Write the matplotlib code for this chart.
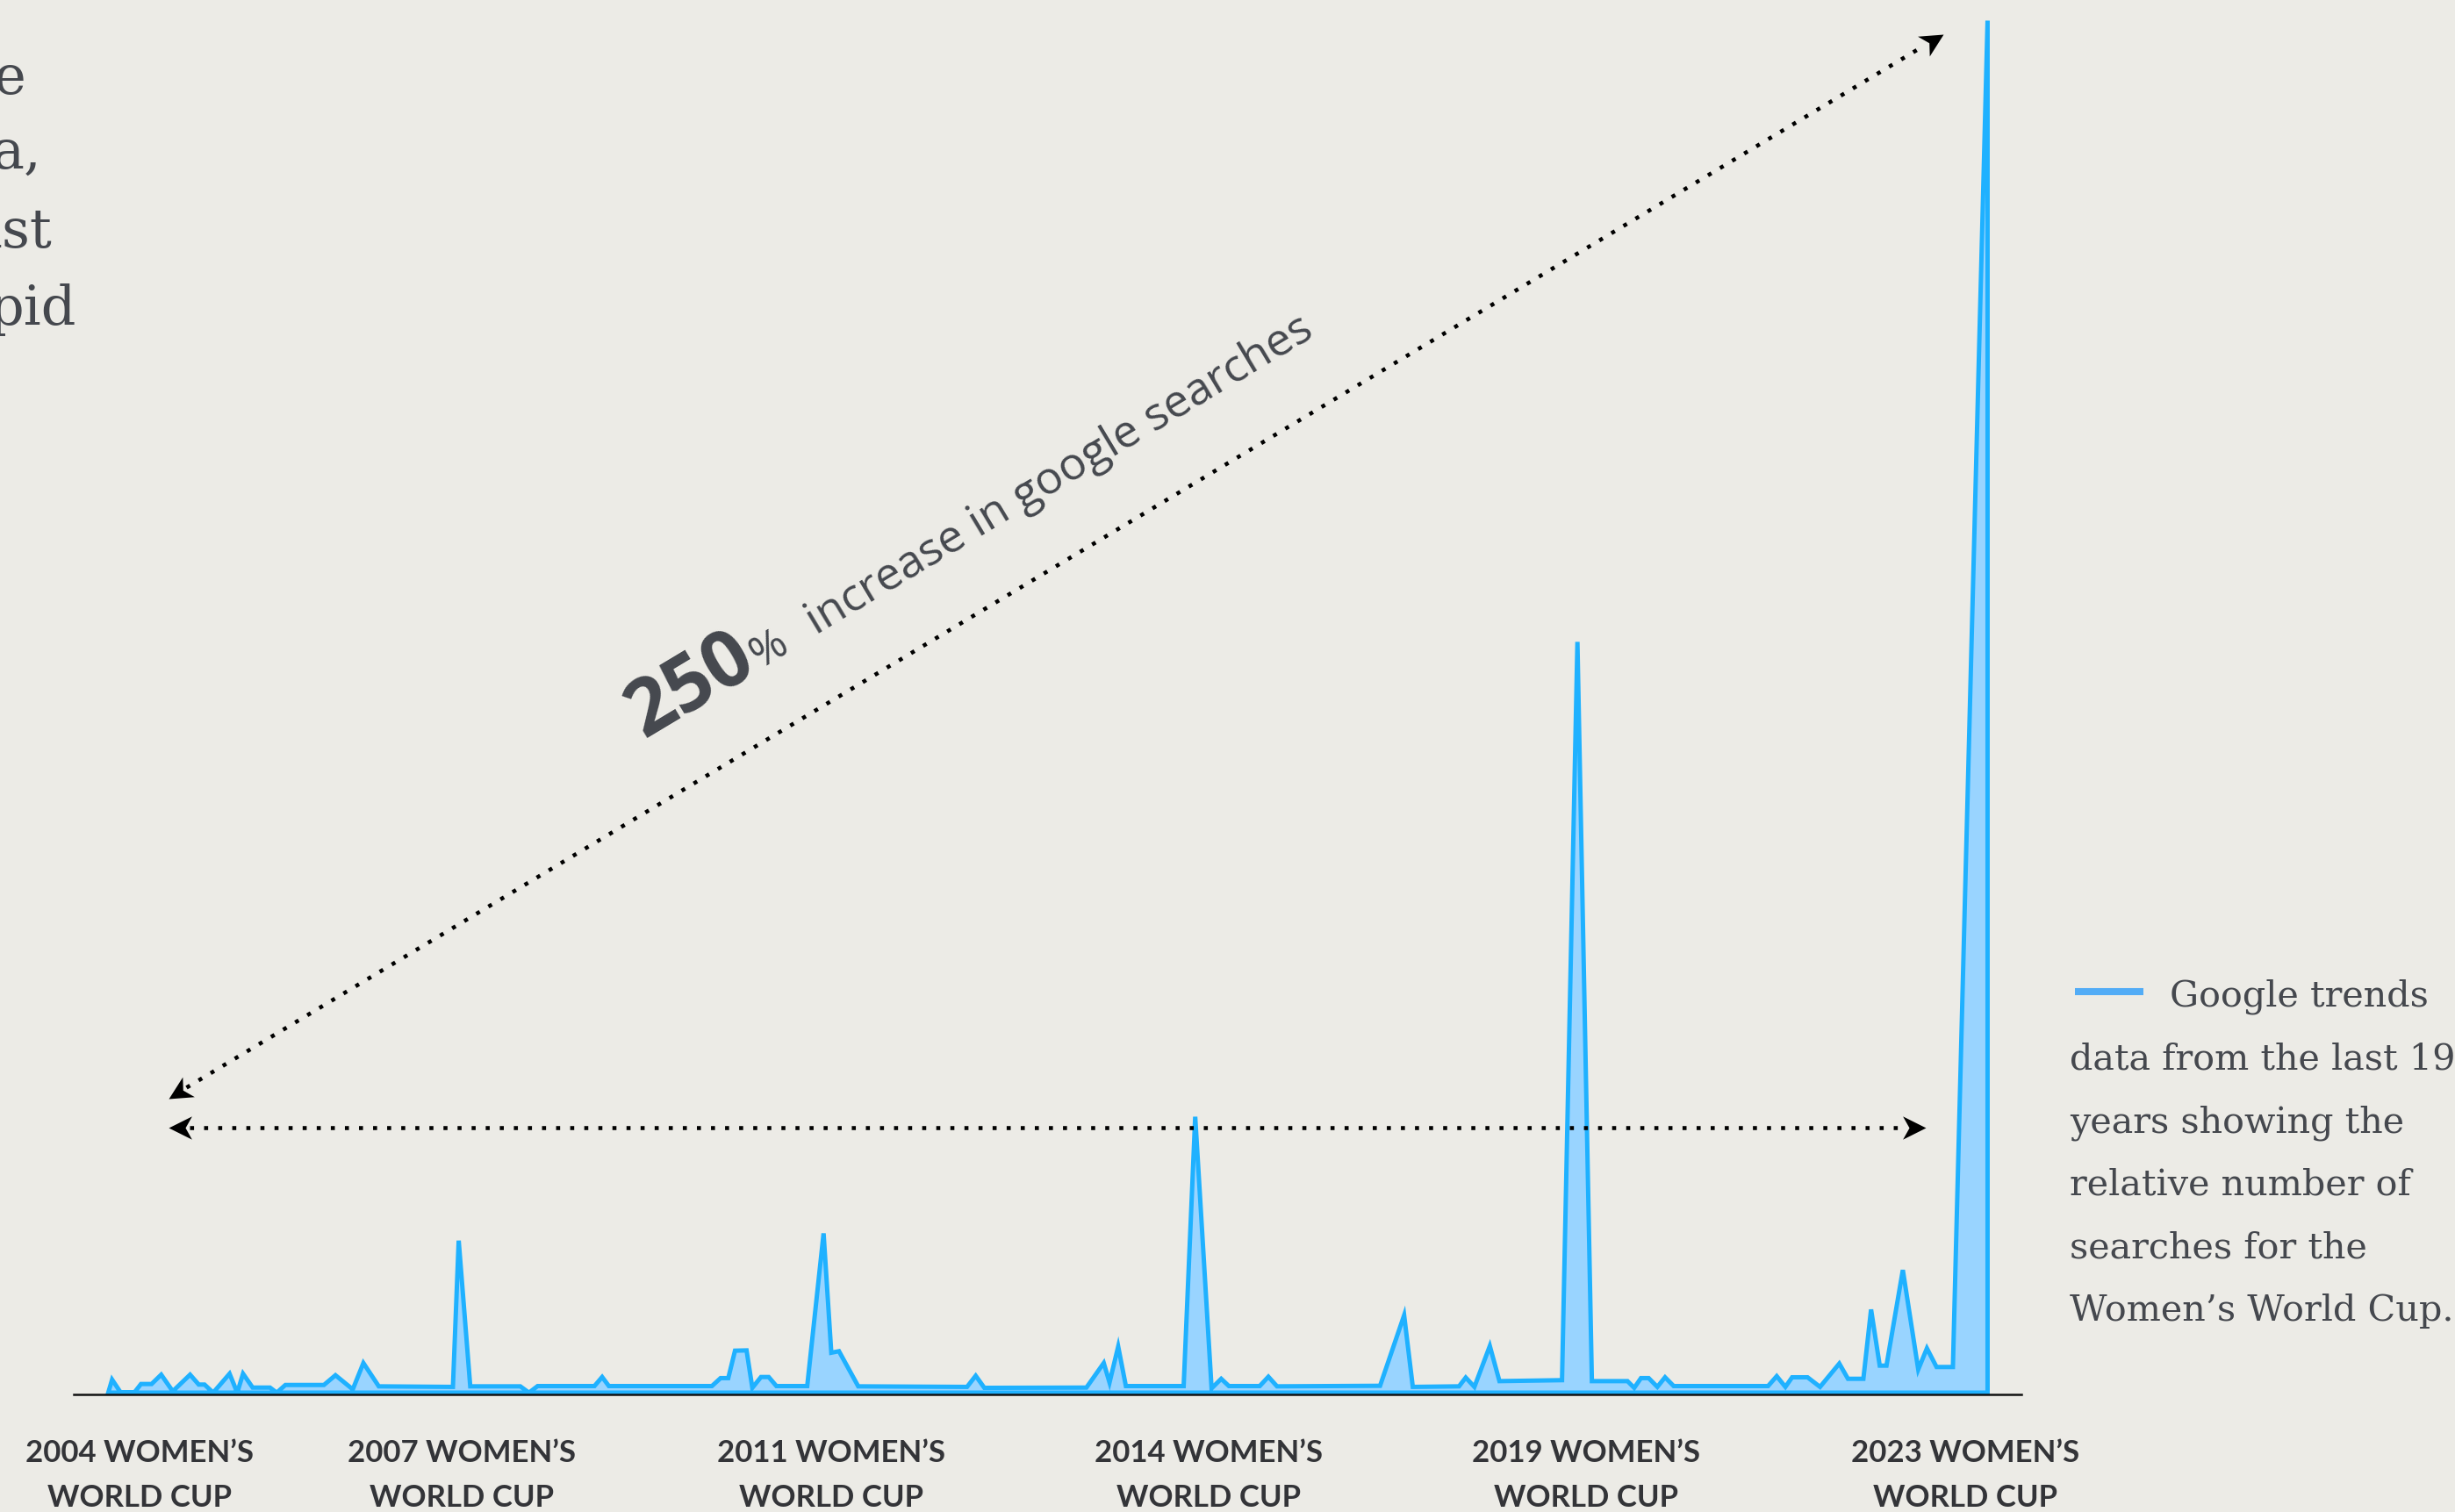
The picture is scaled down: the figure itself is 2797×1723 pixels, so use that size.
import matplotlib
matplotlib.use("Agg")
import matplotlib.pyplot as plt
import numpy as np
from matplotlib.path import Path
from matplotlib.markers import MarkerStyle
from matplotlib.transforms import Affine2D

# ---------------- data ----------------
years = [2004.07, 2004.11, 2004.20, 2004.34, 2004.41, 2004.52, 2004.62, 2004.74, 2004.92, 2005.01,
         2005.07, 2005.16, 2005.33, 2005.41, 2005.47, 2005.57, 2005.75, 2005.82, 2005.91, 2006.31,
         2006.43, 2006.61, 2006.72, 2006.88, 2007.65, 2007.71, 2007.83, 2008.35, 2008.44, 2008.53,
         2009.12, 2009.20, 2009.27, 2010.34, 2010.43, 2010.51, 2010.58, 2010.70, 2010.76, 2010.85,
         2010.93, 2011.01, 2011.33, 2011.50, 2011.58, 2011.66, 2011.86, 2012.99, 2013.08, 2013.17,
         2014.23, 2014.41, 2014.47, 2014.56, 2014.64, 2015.24, 2015.36, 2015.53, 2015.63, 2015.71,
         2016.03, 2016.12, 2016.21, 2017.28, 2017.53, 2017.62, 2018.10, 2018.17, 2018.26, 2018.42,
         2018.52, 2019.17, 2019.33, 2019.48, 2019.85, 2019.92, 2019.99, 2020.07, 2020.16, 2020.24,
         2020.33, 2021.31, 2021.40, 2021.49, 2021.56, 2021.72, 2021.85, 2022.05, 2022.14, 2022.30,
         2022.38, 2022.47, 2022.54, 2022.71, 2022.87, 2022.96, 2023.06, 2023.23, 2023.59]

search_interest = [0, 0.95, 0, 0, 0.63, 0.63, 1.31, 0.10, 1.31, 0.59,
                   0.59, 0, 1.38, 0, 1.38, 0.37, 0.37, 0, 0.56, 0.56,
                   1.27, 0.24, 2.16, 0.46, 0.42, 11.08, 0.46, 0.46, 0, 0.48,
                   0.48, 1.14, 0.48, 0.48, 1.06, 1.06, 3.06, 3.08, 0.35, 1.14,
                   1.14, 0.48, 0.48, 11.61, 2.91, 3.02, 0.46, 0.42, 1.23, 0.35,
                   0.37, 2.16, 0.74, 3.36, 0.48, 0.48, 20.11, 0.31, 1.01, 0.48,
                   0.48, 1.16, 0.46, 0.50, 5.64, 0.42, 0.46, 1.10, 0.42, 3.40,
                   0.84, 0.91, 54.72, 0.84, 0.84, 0.35, 1.06, 1.06, 0.42, 1.12,
                   0.48, 0.48, 1.20, 0.42, 1.12, 1.12, 0.42, 2.12, 1.01, 1.01,
                   6.06, 1.97, 1.97, 8.94, 1.69, 3.23, 1.87, 1.87, 100]

cup_positions = [2004.40, 2007.75, 2011.58, 2015.50, 2019.42, 2023.36]
cup_labels = ["2004 WOMEN\u2019S\nWORLD CUP", "2007 WOMEN\u2019S\nWORLD CUP",
              "2011 WOMEN\u2019S\nWORLD CUP", "2014 WOMEN\u2019S\nWORLD CUP",
              "2019 WOMEN\u2019S\nWORLD CUP", "2023 WOMEN\u2019S\nWORLD CUP"]

legend_lines = ["Google trends", "data from the last 19", "years showing the",
                "relative number of", "searches for the", "Women\u2019s World Cup."]
intro_fragments = ["e", "a,", "ast", "pid"]

big_number = "250"
pct_sign = "%"
increase_text = "increase in google searches"

# ---------------- style ----------------
W, H, DPI = 2797, 1723, 100
BG = "#ECEBE6"
LINE = "#1FB1FF"
FILL = "#99D4FF"
LEG_LINE = "#52ACF6"
TEXT = "#45484E"
LABEL = "#333438"

fig = plt.figure(figsize=(W / DPI, H / DPI), dpi=DPI, facecolor=BG)
renderer = fig.canvas.get_renderer()


def fig_xy(px, py):
    return px / W, 1 - py / H


def text_width(s, **kw):
    t = fig.text(0, 0, s, **kw)
    w = t.get_window_extent(renderer).width
    t.remove()
    return w


def fit_size(s, target_px, **kw):
    return 10 * target_px / text_width(s, fontsize=10, **kw)


ax = fig.add_axes([84 / W, 1 - 1589 / H, (2303 - 84) / W, (1589 - 23) / H])
ax.set_facecolor(BG)
ax.set_xlim(2003.716, 2023.946)
ax.set_ylim(-0.16, 100)

poly = ax.fill_between(years, search_interest, 0, facecolor=FILL, edgecolor=LINE,
                       linewidth=3.6, zorder=2)
poly.set_joinstyle("miter")

for s in ["top", "right", "left"]:
    ax.spines[s].set_visible(False)
ax.spines["bottom"].set_color("#111111")
ax.spines["bottom"].set_linewidth(1.8)
ax.spines["bottom"].set_zorder(3)
ax.set_yticks([])
ax.set_xticks(cup_positions, cup_labels)
ax.tick_params(axis="x", length=0, pad=37, labelsize=25, labelcolor=LABEL)
for lbl in ax.get_xticklabels():
    lbl.set_fontfamily("Lato")
    lbl.set_fontweight("bold")
    lbl.set_linespacing(1.72)

# ---------------- arrows ----------------
head_path = Path([(0, 0), (-1, 0.5), (-0.72, 0), (-1, -0.5), (0, 0)],
                 [Path.MOVETO, Path.LINETO, Path.LINETO, Path.LINETO, Path.CLOSEPOLY])


def double_arrow(p0, p1):
    d0 = ax.transData.transform(p0)
    d1 = ax.transData.transform(p1)
    vec = d1 - d0
    L = np.hypot(*vec)
    u = vec / L
    ang = np.degrees(np.arctan2(vec[1], vec[0]))
    hl = 24
    a = ax.transData.inverted().transform(d0 + u * hl)
    b = ax.transData.inverted().transform(d1 - u * hl)
    ax.plot([a[0], b[0]], [a[1], b[1]], color="black", lw=3.3,
            linestyle=(0, (1, 2.5)), dash_capstyle="butt", clip_on=False, zorder=4)
    for (x, y), rot in ((p1, ang), (p0, ang + 180)):
        m = MarkerStyle(head_path, transform=Affine2D().rotate_deg(rot))
        ax.plot([x], [y], marker=m, markersize=38, color="black",
                markeredgewidth=0, linestyle="none", clip_on=False, zorder=5)
    return ang


angle = double_arrow((2004.70, 21.41), (2023.135, 98.98))
double_arrow((2004.70, 19.28), (2022.95, 19.28))

# ---------------- rotated annotation ----------------
num_size = 64
pct_size = 36
inc_size = fit_size(increase_text, 663, family="Open Sans")
u = np.array([np.cos(np.radians(angle)), np.sin(np.radians(angle))])

num_anchor = ax.transData.transform((2009.487, 47.04)) + u * 20
num_pos = ax.transData.inverted().transform(num_anchor)
ax.text(num_pos[0], num_pos[1], big_number, rotation=angle, rotation_mode="anchor",
        ha="left", va="baseline", fontsize=num_size, fontweight="bold",
        family="Open Sans", color=TEXT, zorder=6)
w_num = text_width(big_number, fontsize=num_size, fontweight="bold", family="Open Sans")
pct_pos = ax.transData.inverted().transform(num_anchor + u * (w_num + 1))
ax.text(pct_pos[0], pct_pos[1], pct_sign, rotation=angle, rotation_mode="anchor",
        ha="left", va="baseline", fontsize=pct_size, family="Open Sans",
        color=TEXT, zorder=6)
inc_pos = ax.transData.inverted().transform(ax.transData.transform((2011.356, 54.91)) + u * 9)
ax.text(inc_pos[0], inc_pos[1], increase_text, rotation=angle, rotation_mode="anchor",
        ha="left", va="baseline", fontsize=inc_size, family="Open Sans",
        color=TEXT, zorder=6)

# ---------------- legend ----------------
leg_size = fit_size(legend_lines[-1], 438, family="DejaVu Serif")
x0, y0 = fig_xy(2364, 1130)
x1, _ = fig_xy(2442, 1130)
fig.add_artist(plt.Line2D([x0, x1], [y0, y0], transform=fig.transFigure,
                          color=LEG_LINE, lw=5.8, solid_capstyle="butt"))
for i, line in enumerate(legend_lines):
    lx = 2472 if i == 0 else 2358
    ly = 1147 + i * 71.6
    fx, fy = fig_xy(lx, ly)
    fig.text(fx, fy, line, ha="left", va="baseline", fontsize=leg_size,
             family="DejaVu Serif", color=TEXT)

# ---------------- cut-off intro paragraph ----------------
intro_right = [30, 48, 60, 87]
intro_base = [107, 193, 282, 370]
for frag, rx, by in zip(intro_fragments, intro_right, intro_base):
    fx, fy = fig_xy(rx, by)
    fig.text(fx, fy, frag, ha="right", va="baseline", fontsize=leg_size * 1.5,
             family="DejaVu Serif", color=TEXT)

fig.savefig("out.png", dpi=DPI, facecolor=BG)
